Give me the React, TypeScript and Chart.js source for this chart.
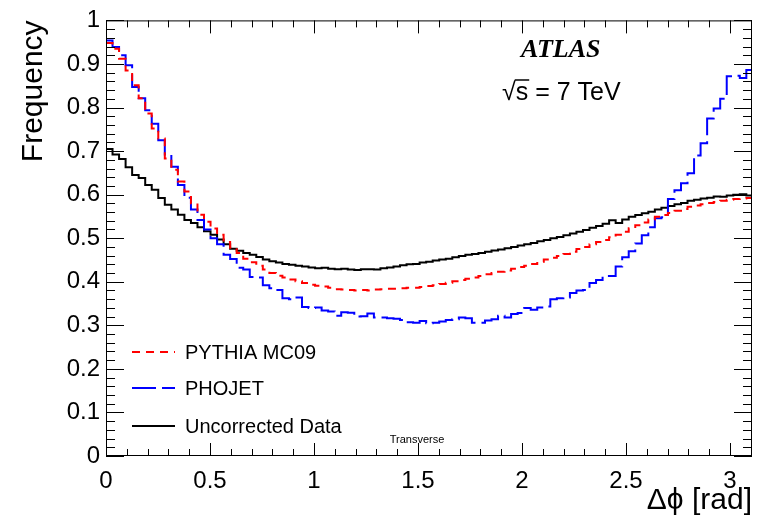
import React, { useEffect, useRef } from 'react';
import { Chart, registerables } from 'chart.js';

Chart.register(...registerables);

// Bin width of the histograms (100 bins over [0, pi])
const BIN_WIDTH = Math.PI / 100;

const PYTHIA_MC09 = [
  0.948, 0.935, 0.912, 0.885, 0.851, 0.821, 0.786, 0.752, 0.729, 0.683,
  0.657, 0.630, 0.607, 0.580, 0.554, 0.538, 0.522, 0.508, 0.491, 0.478,
  0.466, 0.453, 0.445, 0.437, 0.428, 0.420, 0.414, 0.410, 0.405, 0.401,
  0.397, 0.393, 0.391, 0.389, 0.386, 0.383, 0.382, 0.381, 0.380, 0.381,
  0.380, 0.382, 0.383, 0.384, 0.384, 0.385, 0.386, 0.386, 0.388, 0.390,
  0.392, 0.395, 0.398, 0.401, 0.404, 0.407, 0.410, 0.413, 0.417, 0.420,
  0.423, 0.426, 0.430, 0.434, 0.437, 0.441, 0.446, 0.451, 0.455, 0.459,
  0.464, 0.469, 0.475, 0.480, 0.486, 0.491, 0.496, 0.502, 0.508, 0.515,
  0.523, 0.530, 0.536, 0.543, 0.549, 0.553, 0.558, 0.563, 0.567, 0.572,
  0.575, 0.578, 0.581, 0.583, 0.586, 0.588, 0.590, 0.591, 0.592,
];

const PHOJET = [
  0.954, 0.939, 0.920, 0.897, 0.847, 0.821, 0.794, 0.763, 0.725, 0.692,
  0.664, 0.622, 0.593, 0.566, 0.542, 0.520, 0.500, 0.486, 0.462, 0.452,
  0.432, 0.428, 0.411, 0.410, 0.392, 0.385, 0.381, 0.362, 0.360, 0.364,
  0.342, 0.340, 0.341, 0.334, 0.332, 0.322, 0.330, 0.329, 0.320, 0.321,
  0.327, 0.318, 0.318, 0.316, 0.315, 0.312, 0.307, 0.306, 0.310, 0.305,
  0.306, 0.309, 0.312, 0.314, 0.318, 0.316, 0.306, 0.306, 0.311, 0.314,
  0.322, 0.318, 0.326, 0.328, 0.340, 0.336, 0.341, 0.343, 0.360, 0.362,
  0.364, 0.374, 0.380, 0.381, 0.397, 0.404, 0.413, 0.413, 0.435, 0.456,
  0.470, 0.488, 0.507, 0.525, 0.546, 0.548, 0.590, 0.610, 0.626, 0.649,
  0.690, 0.718, 0.775, 0.798, 0.820, 0.872, 0.873, 0.868, 0.886,
];

const UNCORRECTED_DATA = [
  0.705, 0.692, 0.682, 0.663, 0.645, 0.638, 0.622, 0.611, 0.592, 0.577,
  0.566, 0.554, 0.542, 0.535, 0.525, 0.516, 0.508, 0.497, 0.486, 0.476,
  0.471, 0.466, 0.462, 0.457, 0.451, 0.447, 0.444, 0.441, 0.439, 0.437,
  0.435, 0.433, 0.431, 0.432, 0.430, 0.429, 0.430, 0.428, 0.427, 0.429,
  0.429, 0.428, 0.431, 0.433, 0.435, 0.438, 0.440, 0.441, 0.444, 0.446,
  0.449, 0.451, 0.453, 0.456, 0.459, 0.462, 0.464, 0.466, 0.469, 0.472,
  0.474, 0.477, 0.480, 0.483, 0.486, 0.489, 0.493, 0.496, 0.500, 0.503,
  0.507, 0.511, 0.515, 0.519, 0.524, 0.528, 0.533, 0.541, 0.535, 0.543,
  0.549, 0.553, 0.557, 0.561, 0.566, 0.570, 0.574, 0.578, 0.581, 0.586,
  0.588, 0.591, 0.593, 0.596, 0.595, 0.598, 0.600, 0.601, 0.598,
];

const X_TICKS = [0, 0.5, 1, 1.5, 2, 2.5, 3];
const X_TICK_LABELS = ['0', '0.5', '1', '1.5', '2', '2.5', '3'];
const Y_TICKS = [0, 0.1, 0.2, 0.3, 0.4, 0.5, 0.6, 0.7, 0.8, 0.9, 1];
const Y_TICK_LABELS = ['0', '0.1', '0.2', '0.3', '0.4', '0.5', '0.6', '0.7', '0.8', '0.9', '1'];

const SERIES_LABELS = ['PYTHIA MC09', 'PHOJET', 'Uncorrected Data'];
const SERIES_COLORS = ['#ff0000', '#0000ff', '#000000'];
const SERIES_DASHES = [[8, 6], [24, 6], []];

const X_MIN = 0;
const X_MAX = 3.106;
const Y_MIN = 0;
const Y_MAX = 1;

const SANS = '"Liberation Sans", Arial, Helvetica, sans-serif';
const SERIF = '"Liberation Serif", "Times New Roman", serif';

const toSteps = (vals: number[]) => [
  ...vals.map((v, i) => ({ x: i * BIN_WIDTH, y: v })),
  { x: vals.length * BIN_WIDTH, y: vals[vals.length - 1] },
];

const rootStylePlugin = {
  id: 'rootStyle',
  afterDraw(chart: any) {
    const { ctx, chartArea } = chart;
    const { left, right, top, bottom } = chartArea;
    const xs = chart.scales.x;
    const ys = chart.scales.y;
    ctx.save();
    ctx.strokeStyle = '#000';
    ctx.lineWidth = 1;
    ctx.setLineDash([]);
    // frame
    ctx.strokeRect(left + 0.5, top + 0.5, right - left - 1, bottom - top - 1);
    // x ticks (inward, bottom & top)
    ctx.beginPath();
    for (let k = 0; k <= 40; k++) {
      const v = k / 10;
      if (v > X_MAX) break;
      const px = Math.round(xs.getPixelForValue(v)) + 0.5;
      const len = k % 5 === 0 ? 13 : 7;
      ctx.moveTo(px, bottom);
      ctx.lineTo(px, bottom - len);
      ctx.moveTo(px, top);
      ctx.lineTo(px, top + len);
    }
    // y ticks (inward, left & right)
    for (let k = 0; k <= 50; k++) {
      const v = k / 50;
      const py = Math.round(ys.getPixelForValue(v)) + 0.5;
      const len = k % 5 === 0 ? 18 : 9;
      ctx.moveTo(left, py);
      ctx.lineTo(left + len, py);
      ctx.moveTo(right, py);
      ctx.lineTo(right - len, py);
    }
    ctx.stroke();

    ctx.fillStyle = '#000';
    // y title
    ctx.save();
    ctx.translate(42, top);
    ctx.rotate(-Math.PI / 2);
    ctx.font = `30px ${SANS}`;
    ctx.textAlign = 'right';
    ctx.textBaseline = 'alphabetic';
    ctx.fillText('Frequency', 0, 0);
    ctx.restore();

    // x title
    ctx.font = `30px ${SANS}`;
    ctx.textAlign = 'right';
    ctx.textBaseline = 'alphabetic';
    ctx.fillText('\u0394\u03d5 [rad]', right, 509);

    // ATLAS
    ctx.font = `bold italic 26px ${SERIF}`;
    ctx.textAlign = 'left';
    ctx.fillText('ATLAS', 521, 57);

    // sqrt(s) = 7 TeV
    ctx.font = `25px ${SANS}`;
    const sx = 502;
    const sy = 100;
    const rootW = ctx.measureText('\u221a').width;
    const sW = ctx.measureText('s').width;
    ctx.fillText('\u221as = 7 TeV', sx, sy);
    ctx.beginPath();
    ctx.lineWidth = 1.5;
    ctx.moveTo(sx + rootW - 1, sy - 20);
    ctx.lineTo(sx + rootW + sW + 1, sy - 20);
    ctx.stroke();

    // Transverse
    ctx.font = `11px ${SANS}`;
    ctx.textAlign = 'center';
    ctx.fillText('Transverse', 417, 443);

    // legend
    const rows = [352, 388, 426];
    ctx.font = `20px ${SANS}`;
    ctx.textAlign = 'left';
    ctx.textBaseline = 'middle';
    rows.forEach((ry, i) => {
      ctx.beginPath();
      ctx.strokeStyle = SERIES_COLORS[i];
      ctx.lineWidth = 2;
      ctx.setLineDash(SERIES_DASHES[i]);
      ctx.moveTo(132, ry);
      ctx.lineTo(175, ry);
      ctx.stroke();
      ctx.setLineDash([]);
      ctx.fillStyle = '#000';
      ctx.fillText(SERIES_LABELS[i], 185, ry + 1);
    });
    ctx.restore();
  },
};

export default function App() {
  const canvasRef = useRef<HTMLCanvasElement | null>(null);

  useEffect(() => {
    if (!canvasRef.current) return;
    const seriesValues = [PYTHIA_MC09, PHOJET, UNCORRECTED_DATA];
    const chart = new Chart(canvasRef.current, {
      type: 'line',
      data: {
        datasets: seriesValues.map((vals, i) => ({
          label: SERIES_LABELS[i],
          data: toSteps(vals),
          borderColor: SERIES_COLORS[i],
          backgroundColor: SERIES_COLORS[i],
          borderWidth: 2,
          borderDash: SERIES_DASHES[i],
          stepped: true,
          pointRadius: 0,
          fill: false,
          tension: 0,
        })),
      },
      options: {
        responsive: false,
        animation: false,
        devicePixelRatio: 1,
        layout: { padding: { top: 18, right: 6, left: 0, bottom: 0 } },
        plugins: {
          legend: { display: false },
          tooltip: { enabled: false },
        },
        scales: {
          x: {
            type: 'linear',
            min: X_MIN,
            max: X_MAX,
            afterBuildTicks: (s: any) => {
              s.ticks = X_TICKS.map((v) => ({ value: v }));
            },
            afterFit: (s: any) => {
              s.height = 61;
            },
            ticks: {
              callback: (_v: any, i: number) => X_TICK_LABELS[i],
              font: { size: 24, family: SANS },
              color: '#000',
              padding: 11,
              maxRotation: 0,
              autoSkip: false,
            },
            grid: { display: false, drawTicks: false },
            border: { display: false },
          },
          y: {
            type: 'linear',
            min: Y_MIN,
            max: Y_MAX,
            afterBuildTicks: (s: any) => {
              s.ticks = Y_TICKS.map((v) => ({ value: v }));
            },
            afterFit: (s: any) => {
              s.width = 106;
            },
            ticks: {
              callback: (_v: any, i: number) => Y_TICK_LABELS[i],
              font: { size: 24, family: SANS },
              color: '#000',
              padding: 6,
              autoSkip: false,
            },
            grid: { display: false, drawTicks: false },
            border: { display: false },
          },
        },
      },
      plugins: [rootStylePlugin],
    });
    return () => chart.destroy();
  }, []);

  return (
    <div style={{ position: 'fixed', left: 0, top: 0, width: 758, height: 517, background: '#fff' }}>
      <canvas ref={canvasRef} width={758} height={517} />
    </div>
  );
}
